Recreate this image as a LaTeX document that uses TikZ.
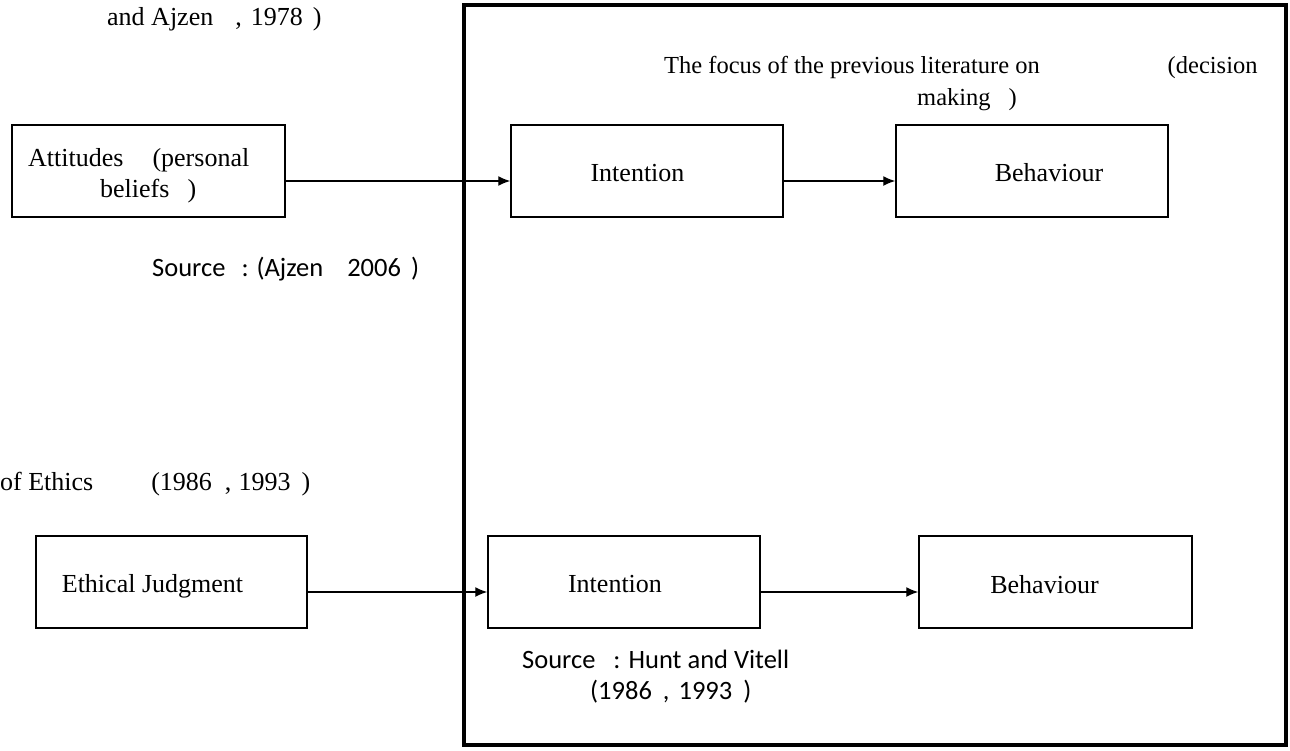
\documentclass[tikz,border=0pt]{standalone}
\usepackage{fontspec}
\setmainfont{Liberation Serif}
\newfontfamily\calib{Carlito}
\usetikzlibrary{arrows.meta}
\tikzset{
  box/.style={draw, line width=1.5pt, minimum width=#1, minimum height=92pt, inner sep=0pt},
  frame/.style={draw, line width=4pt},
  arr/.style={line width=1.4pt, -{Latex[length=12pt,width=10pt]}},
  txt/.style={anchor=base west, inner sep=0pt, font=\fontsize{26}{30}\selectfont},
  ttxt/.style={anchor=base west, inner sep=0pt, font=\fontsize{24.5}{28}\selectfont},
  stxt/.style={anchor=base west, inner sep=0pt, font=\calib\fontsize{26.5}{30}\selectfont},
}
\begin{document}
\begin{tikzpicture}[x=1pt,y=-1pt]
\useasboundingbox (0,0) rectangle (1290,750);
% frame
\draw[frame] (464,5) rectangle (1286,745);
% top texts
\node[txt] (t1) at (107,25) {and Ajzen\hspace{22pt},\hspace{9pt}1978\hspace{10pt})};
\node[ttxt] (t2) at (664,73) {The focus of the previous literature on\hspace{128pt}(decision};
\node[ttxt] (t3) at (917,105) {making\hspace{18pt})};
% upper row
\node[box=273pt] (att) at (148.5,171) {};
\node[txt] (attA) at (28,166) {Attitudes\hspace{29pt}(personal};
\node[txt] (attB) at (100,197) {beliefs\hspace{18pt})};
\node[box=272pt] (int1) at (647,171) {};
\node[txt, anchor=base] (int1t) at (637.5,181) {Intention};
\node[box=272pt] (beh1) at (1032,171) {};
\node[txt, anchor=base] (beh1t) at (1049,181) {Behaviour};
\draw[arr] ([yshift=-10pt]att.east) -- ([yshift=-10pt]int1.west);
\draw[arr] ([yshift=-10pt]int1.east) -- ([yshift=-10pt]beh1.west);
\node[stxt] (src1) at (152,276) {Source\hspace{16pt}:\hspace{8pt}(Ajzen\hspace{24pt}2006\hspace{10pt})};
% lower row
\node[txt] (eth) at (0,490) {of Ethics\hspace{58pt}(1986\hspace{13pt},\hspace{7pt}1993\hspace{11pt})};
\node[box=271pt] (ej) at (171.5,582) {};
\node[txt, anchor=base] (ejt) at (152.5,592) {Ethical Judgment};
\node[box=272pt] (int2) at (624,582) {};
\node[txt, anchor=base] (int2t) at (615,592) {Intention};
\node[box=273pt] (beh2) at (1055.5,582) {};
\node[txt, anchor=base] (beh2t) at (1044.5,593) {Behaviour};
\draw[arr] ([yshift=-10pt]ej.east) -- ([yshift=-10pt]int2.west);
\draw[arr] ([yshift=-10pt]int2.east) -- ([yshift=-10pt]beh2.west);
\node[stxt] (src2a) at (522,668) {Source\hspace{18pt}:\hspace{8pt}Hunt and Vitell};
\node[stxt] (src2b) at (590,699) {(1986\hspace{11pt},\hspace{9pt}1993\hspace{11pt})};
\end{tikzpicture}
\end{document}
